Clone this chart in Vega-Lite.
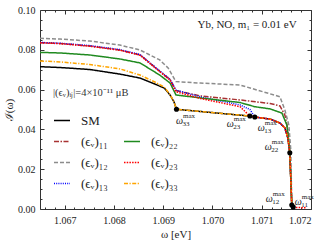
{
  "$schema": "https://vega.github.io/schema/vega-lite/v6.json",
  "width": 271,
  "height": 199,
  "autosize": "none",
  "padding": {"left": 40, "top": 10, "right": 17, "bottom": 36},
  "background": "white",
  "config": {
    "view": {"stroke": null},
    "font": "Liberation Serif",
    "axis": {"grid": false, "domainColor": "#333", "tickColor": "#333", "labelFont": "Liberation Serif", "labelColor": "#222", "titleFont": "Liberation Serif", "titleFontWeight": "normal", "titleColor": "#222"},
    "legend": {"labelFont": "Liberation Serif", "titleFont": "Liberation Serif"}
  },
  "resolve": {"axis": {"x": "independent", "y": "independent"}},
  "datasets": {
    "curves": [
      {"s": "SM", "w": 1.0665, "I": 0.0715},
      {"s": "SM", "w": 1.06691, "I": 0.0711},
      {"s": "SM", "w": 1.06751, "I": 0.0701},
      {"s": "SM", "w": 1.06812, "I": 0.0678},
      {"s": "SM", "w": 1.06853, "I": 0.0658},
      {"s": "SM", "w": 1.06883, "I": 0.0628},
      {"s": "SM", "w": 1.06902, "I": 0.0608},
      {"s": "SM", "w": 1.06914, "I": 0.0573},
      {"s": "SM", "w": 1.06922, "I": 0.0538},
      {"s": "SM", "w": 1.06927, "I": 0.0501},
      {"s": "SM", "w": 1.07076, "I": 0.0467},
      {"s": "SM", "w": 1.07086, "I": 0.0462},
      {"s": "SM", "w": 1.07117, "I": 0.0452},
      {"s": "SM", "w": 1.07137, "I": 0.0432},
      {"s": "SM", "w": 1.07147, "I": 0.0407},
      {"s": "SM", "w": 1.07153, "I": 0.0357},
      {"s": "SM", "w": 1.07157, "I": 0.0283},
      {"s": "SM", "w": 1.07161, "I": 0.002},
      {"s": "SM", "w": 1.07164, "I": 0.0},

      {"s": "(ϵᵥ)₁₁", "w": 1.0665, "I": 0.0836},
      {"s": "(ϵᵥ)₁₁", "w": 1.06691, "I": 0.0832},
      {"s": "(ϵᵥ)₁₁", "w": 1.06751, "I": 0.0819},
      {"s": "(ϵᵥ)₁₁", "w": 1.06812, "I": 0.0799},
      {"s": "(ϵᵥ)₁₁", "w": 1.06853, "I": 0.0774},
      {"s": "(ϵᵥ)₁₁", "w": 1.06893, "I": 0.0692},
      {"s": "(ϵᵥ)₁₁", "w": 1.06914, "I": 0.0650},
      {"s": "(ϵᵥ)₁₁", "w": 1.06926, "I": 0.0595},
      {"s": "(ϵᵥ)₁₁", "w": 1.06976, "I": 0.0568},
      {"s": "(ϵᵥ)₁₁", "w": 1.07056, "I": 0.0548},
      {"s": "(ϵᵥ)₁₁", "w": 1.07117, "I": 0.0530},
      {"s": "(ϵᵥ)₁₁", "w": 1.07137, "I": 0.0518},
      {"s": "(ϵᵥ)₁₁", "w": 1.07147, "I": 0.0472},
      {"s": "(ϵᵥ)₁₁", "w": 1.07153, "I": 0.0400},
      {"s": "(ϵᵥ)₁₁", "w": 1.07157, "I": 0.0283},
      {"s": "(ϵᵥ)₁₁", "w": 1.07161, "I": 0.002},
      {"s": "(ϵᵥ)₁₁", "w": 1.07164, "I": 0.0},

      {"s": "(ϵᵥ)₁₂", "w": 1.0665, "I": 0.0858},
      {"s": "(ϵᵥ)₁₂", "w": 1.06691, "I": 0.0854},
      {"s": "(ϵᵥ)₁₂", "w": 1.06751, "I": 0.0844},
      {"s": "(ϵᵥ)₁₂", "w": 1.06812, "I": 0.0824},
      {"s": "(ϵᵥ)₁₂", "w": 1.06853, "I": 0.0799},
      {"s": "(ϵᵥ)₁₂", "w": 1.06893, "I": 0.0749},
      {"s": "(ϵᵥ)₁₂", "w": 1.06910, "I": 0.0709},
      {"s": "(ϵᵥ)₁₂", "w": 1.06926, "I": 0.0640},
      {"s": "(ϵᵥ)₁₂", "w": 1.06975, "I": 0.0633},
      {"s": "(ϵᵥ)₁₂", "w": 1.07056, "I": 0.0623},
      {"s": "(ϵᵥ)₁₂", "w": 1.07137, "I": 0.0564},
      {"s": "(ϵᵥ)₁₂", "w": 1.07147, "I": 0.0497},
      {"s": "(ϵᵥ)₁₂", "w": 1.07155, "I": 0.0422},
      {"s": "(ϵᵥ)₁₂", "w": 1.07159, "I": 0.0296},
      {"s": "(ϵᵥ)₁₂", "w": 1.07161, "I": 0.002},
      {"s": "(ϵᵥ)₁₂", "w": 1.07163, "I": 0.0},

      {"s": "(ϵᵥ)₁₃", "w": 1.0665, "I": 0.0837},
      {"s": "(ϵᵥ)₁₃", "w": 1.06691, "I": 0.0833},
      {"s": "(ϵᵥ)₁₃", "w": 1.06751, "I": 0.0821},
      {"s": "(ϵᵥ)₁₃", "w": 1.06812, "I": 0.0801},
      {"s": "(ϵᵥ)₁₃", "w": 1.06853, "I": 0.0776},
      {"s": "(ϵᵥ)₁₃", "w": 1.06893, "I": 0.0694},
      {"s": "(ϵᵥ)₁₃", "w": 1.06914, "I": 0.0652},
      {"s": "(ϵᵥ)₁₃", "w": 1.06926, "I": 0.0597},
      {"s": "(ϵᵥ)₁₃", "w": 1.06976, "I": 0.0563},
      {"s": "(ϵᵥ)₁₃", "w": 1.07056, "I": 0.0523},
      {"s": "(ϵᵥ)₁₃", "w": 1.07076, "I": 0.0500},
      {"s": "(ϵᵥ)₁₃", "w": 1.07086, "I": 0.0462},
      {"s": "(ϵᵥ)₁₃", "w": 1.07117, "I": 0.0452},
      {"s": "(ϵᵥ)₁₃", "w": 1.07137, "I": 0.0432},
      {"s": "(ϵᵥ)₁₃", "w": 1.07147, "I": 0.0407},
      {"s": "(ϵᵥ)₁₃", "w": 1.07153, "I": 0.0357},
      {"s": "(ϵᵥ)₁₃", "w": 1.07157, "I": 0.0283},
      {"s": "(ϵᵥ)₁₃", "w": 1.07161, "I": 0.002},
      {"s": "(ϵᵥ)₁₃", "w": 1.07164, "I": 0.0},

      {"s": "(ϵᵥ)₂₂", "w": 1.0665, "I": 0.0787},
      {"s": "(ϵᵥ)₂₂", "w": 1.06691, "I": 0.0784},
      {"s": "(ϵᵥ)₂₂", "w": 1.06751, "I": 0.0774},
      {"s": "(ϵᵥ)₂₂", "w": 1.06812, "I": 0.0754},
      {"s": "(ϵᵥ)₂₂", "w": 1.06853, "I": 0.0734},
      {"s": "(ϵᵥ)₂₂", "w": 1.06893, "I": 0.0673},
      {"s": "(ϵᵥ)₂₂", "w": 1.06914, "I": 0.0633},
      {"s": "(ϵᵥ)₂₂", "w": 1.06926, "I": 0.0573},
      {"s": "(ϵᵥ)₂₂", "w": 1.06976, "I": 0.0558},
      {"s": "(ϵᵥ)₂₂", "w": 1.07056, "I": 0.0535},
      {"s": "(ϵᵥ)₂₂", "w": 1.07086, "I": 0.0514},
      {"s": "(ϵᵥ)₂₂", "w": 1.07117, "I": 0.0503},
      {"s": "(ϵᵥ)₂₂", "w": 1.07141, "I": 0.0482},
      {"s": "(ϵᵥ)₂₂", "w": 1.07151, "I": 0.0422},
      {"s": "(ϵᵥ)₂₂", "w": 1.07157, "I": 0.0283},
      {"s": "(ϵᵥ)₂₂", "w": 1.07161, "I": 0.002},
      {"s": "(ϵᵥ)₂₂", "w": 1.07164, "I": 0.0},

      {"s": "(ϵᵥ)₃₃", "w": 1.0665, "I": 0.0744},
      {"s": "(ϵᵥ)₃₃", "w": 1.06691, "I": 0.0739},
      {"s": "(ϵᵥ)₃₃", "w": 1.06751, "I": 0.0726},
      {"s": "(ϵᵥ)₃₃", "w": 1.06812, "I": 0.0704},
      {"s": "(ϵᵥ)₃₃", "w": 1.06853, "I": 0.0673},
      {"s": "(ϵᵥ)₃₃", "w": 1.06883, "I": 0.0638},
      {"s": "(ϵᵥ)₃₃", "w": 1.06902, "I": 0.0613},
      {"s": "(ϵᵥ)₃₃", "w": 1.06914, "I": 0.0575},
      {"s": "(ϵᵥ)₃₃", "w": 1.06922, "I": 0.0538},
      {"s": "(ϵᵥ)₃₃", "w": 1.06927, "I": 0.0501},
      {"s": "(ϵᵥ)₃₃", "w": 1.07076, "I": 0.0467},
      {"s": "(ϵᵥ)₃₃", "w": 1.07086, "I": 0.0462},
      {"s": "(ϵᵥ)₃₃", "w": 1.07117, "I": 0.0452},
      {"s": "(ϵᵥ)₃₃", "w": 1.07137, "I": 0.0432},
      {"s": "(ϵᵥ)₃₃", "w": 1.07147, "I": 0.0407},
      {"s": "(ϵᵥ)₃₃", "w": 1.07153, "I": 0.0357},
      {"s": "(ϵᵥ)₃₃", "w": 1.07157, "I": 0.0283},
      {"s": "(ϵᵥ)₃₃", "w": 1.07161, "I": 0.002},
      {"s": "(ϵᵥ)₃₃", "w": 1.07164, "I": 0.0},

      {"s": "(ϵᵥ)₂₃", "w": 1.0665, "I": 0.0835},
      {"s": "(ϵᵥ)₂₃", "w": 1.06691, "I": 0.0831},
      {"s": "(ϵᵥ)₂₃", "w": 1.06751, "I": 0.0818},
      {"s": "(ϵᵥ)₂₃", "w": 1.06812, "I": 0.0798},
      {"s": "(ϵᵥ)₂₃", "w": 1.06853, "I": 0.0773},
      {"s": "(ϵᵥ)₂₃", "w": 1.06893, "I": 0.0690},
      {"s": "(ϵᵥ)₂₃", "w": 1.06914, "I": 0.0648},
      {"s": "(ϵᵥ)₂₃", "w": 1.06926, "I": 0.0589},
      {"s": "(ϵᵥ)₂₃", "w": 1.06976, "I": 0.0555},
      {"s": "(ϵᵥ)₂₃", "w": 1.07056, "I": 0.0514},
      {"s": "(ϵᵥ)₂₃", "w": 1.07076, "I": 0.0467},
      {"s": "(ϵᵥ)₂₃", "w": 1.07086, "I": 0.0462},
      {"s": "(ϵᵥ)₂₃", "w": 1.07117, "I": 0.0452},
      {"s": "(ϵᵥ)₂₃", "w": 1.07137, "I": 0.0432},
      {"s": "(ϵᵥ)₂₃", "w": 1.07147, "I": 0.0407},
      {"s": "(ϵᵥ)₂₃", "w": 1.07153, "I": 0.0357},
      {"s": "(ϵᵥ)₂₃", "w": 1.07157, "I": 0.0283},
      {"s": "(ϵᵥ)₂₃", "w": 1.07161, "I": 0.002},
      {"s": "(ϵᵥ)₂₃", "w": 1.07164, "I": 0.0008},
      {"s": "(ϵᵥ)₂₃", "w": 1.0719, "I": 0.0006}
    ],
    "maxima": [
      {"k": "33", "w": 1.06927, "I": 0.0501, "lw": 1.06926, "lI": 0.0442},
      {"k": "23", "w": 1.07076, "I": 0.0467, "lw": 1.07029, "lI": 0.0427},
      {"k": "13", "w": 1.07086, "I": 0.0462, "lw": 1.07092, "lI": 0.0407},
      {"k": "22", "w": 1.07157, "I": 0.0283, "lw": 1.07106, "lI": 0.0312},
      {"k": "12", "w": 1.07161, "I": 0.0020, "lw": 1.07108, "lI": 0.0050},
      {"k": "11", "w": 1.07164, "I": 0.0010, "lw": 1.07167, "lI": 0.0035}
    ],
    "note": [
      {"t": "Yb, NO, m₁ = 0.01 eV", "w": 1.07171, "I": 0.0925}
    ]
  },
  "layer": [
    {
      "data": {"name": "curves"},
      "mark": {"type": "line", "strokeWidth": 1.5, "clip": true},
      "encoding": {
        "x": {"field": "w", "type": "quantitative",
          "scale": {"domain": [1.0665, 1.072], "nice": false, "zero": false},
          "axis": {"orient": "bottom", "values": [1.067, 1.068, 1.069, 1.07, 1.071, 1.072], "format": ".3f", "tickSize": -4, "labelPadding": 10, "labelFontSize": 10, "title": "ω [eV]", "titleFontSize": 11, "titlePadding": 3, "domainWidth": 1}},
        "y": {"field": "I", "type": "quantitative",
          "scale": {"domain": [0, 0.1], "nice": false, "zero": false},
          "axis": {"orient": "left", "values": [0, 0.02, 0.04, 0.06, 0.08, 0.1], "format": ".2f", "tickSize": -4, "labelPadding": 9, "labelFontSize": 10, "title": "ℐ(ω)", "titleFontSize": 11, "titlePadding": 3, "domainWidth": 1}},
        "color": {"field": "s", "type": "nominal",
          "scale": {"domain": ["SM", "(ϵᵥ)₁₁", "(ϵᵥ)₁₂", "(ϵᵥ)₁₃", " ", "(ϵᵥ)₂₂", "(ϵᵥ)₂₃", "(ϵᵥ)₃₃"],
                    "range": ["#000000", "#a83232", "#8c8c8c", "#0000ff", "rgba(0,0,0,0)", "#1f8a1f", "#ff0000", "#ffa500"]},
          "legend": {"orient": "none", "legendX": 13, "legendY": 78, "columns": 2, "title": "|(ϵᵥ)ᵢⱼ|=4×10⁻¹¹ μB", "titleFontSize": 10.5, "titleFontWeight": "normal", "titleColor": "#333", "titlePadding": 13, "labelFontSize": 13, "labelColor": "#222", "symbolSize": 256, "symbolStrokeWidth": 1.6, "labelOffset": 10, "columnPadding": 12, "rowPadding": 5}},
        "strokeDash": {"field": "s", "type": "nominal",
          "scale": {"domain": ["SM", "(ϵᵥ)₁₁", "(ϵᵥ)₁₂", "(ϵᵥ)₁₃", " ", "(ϵᵥ)₂₂", "(ϵᵥ)₂₃", "(ϵᵥ)₃₃"],
                    "range": [[1, 0], [5, 1.5, 1.5, 1.5], [4, 2], [1, 1.2], [1, 0], [1, 0], [1.5, 1.2], [4, 1.5, 1.2, 1.5]]},
          "legend": null}
      }
    },
    {
      "data": {"name": "maxima"},
      "mark": {"type": "point", "filled": true, "color": "#000", "size": 26, "opacity": 1},
      "encoding": {
        "x": {"field": "w", "type": "quantitative", "scale": {"domain": [1.0665, 1.072], "nice": false, "zero": false},
          "axis": {"orient": "top", "values": [1.067, 1.068, 1.069, 1.07, 1.071, 1.072], "tickSize": -4, "labels": false, "title": null, "domainWidth": 1}},
        "y": {"field": "I", "type": "quantitative", "scale": {"domain": [0, 0.1], "nice": false, "zero": false},
          "axis": {"orient": "right", "values": [0, 0.02, 0.04, 0.06, 0.08, 0.1], "tickSize": -4, "labels": false, "title": null, "domainWidth": 1}}
      }
    },
    {
      "data": {"name": "maxima"},
      "mark": {"type": "text", "text": "ω", "font": "Liberation Serif", "fontStyle": "italic", "fontSize": 10, "align": "left", "baseline": "middle", "color": "#222"},
      "encoding": {
        "x": {"field": "lw", "type": "quantitative", "scale": {"domain": [1.0665, 1.072], "nice": false, "zero": false},
          "axis": {"orient": "bottom", "values": [1.0666, 1.0668, 1.067, 1.0672, 1.0674, 1.0676, 1.0678, 1.068, 1.0682, 1.0684, 1.0686, 1.0688, 1.069, 1.0692, 1.0694, 1.0696, 1.0698, 1.07, 1.0702, 1.0704, 1.0706, 1.0708, 1.071, 1.0712, 1.0714, 1.0716, 1.0718], "tickSize": -2, "labels": false, "domain": false, "title": null}},
        "y": {"field": "lI", "type": "quantitative", "scale": {"domain": [0, 0.1], "nice": false, "zero": false},
          "axis": {"orient": "left", "values": [0.005, 0.01, 0.015, 0.025, 0.03, 0.035, 0.045, 0.05, 0.055, 0.065, 0.07, 0.075, 0.085, 0.09, 0.095], "tickSize": -2, "labels": false, "domain": false, "title": null}}
      }
    },
    {
      "data": {"name": "maxima"},
      "mark": {"type": "text", "text": "max", "font": "Liberation Serif", "fontSize": 7, "align": "left", "baseline": "middle", "dx": 7, "dy": -5, "color": "#222"},
      "encoding": {
        "x": {"field": "lw", "type": "quantitative", "scale": {"domain": [1.0665, 1.072], "nice": false, "zero": false},
          "axis": {"orient": "top", "values": [1.0666, 1.0668, 1.067, 1.0672, 1.0674, 1.0676, 1.0678, 1.068, 1.0682, 1.0684, 1.0686, 1.0688, 1.069, 1.0692, 1.0694, 1.0696, 1.0698, 1.07, 1.0702, 1.0704, 1.0706, 1.0708, 1.071, 1.0712, 1.0714, 1.0716, 1.0718], "tickSize": -2, "labels": false, "domain": false, "title": null}},
        "y": {"field": "lI", "type": "quantitative", "scale": {"domain": [0, 0.1], "nice": false, "zero": false},
          "axis": {"orient": "right", "values": [0.005, 0.01, 0.015, 0.025, 0.03, 0.035, 0.045, 0.05, 0.055, 0.065, 0.07, 0.075, 0.085, 0.09, 0.095], "tickSize": -2, "labels": false, "domain": false, "title": null}}
      }
    },
    {
      "data": {"name": "maxima"},
      "mark": {"type": "text", "font": "Liberation Serif", "fontSize": 7, "align": "left", "baseline": "middle", "dx": 6.5, "dy": 3, "color": "#222"},
      "encoding": {
        "x": {"field": "lw", "type": "quantitative", "axis": null},
        "y": {"field": "lI", "type": "quantitative", "axis": null},
        "text": {"field": "k", "type": "nominal"}
      }
    },
    {
      "data": {"name": "note"},
      "mark": {"type": "text", "font": "Liberation Serif", "fontSize": 11, "align": "right", "baseline": "middle", "color": "#222"},
      "encoding": {
        "x": {"field": "w", "type": "quantitative", "axis": null},
        "y": {"field": "I", "type": "quantitative", "axis": null},
        "text": {"field": "t", "type": "nominal"}
      }
    }
  ]
}
